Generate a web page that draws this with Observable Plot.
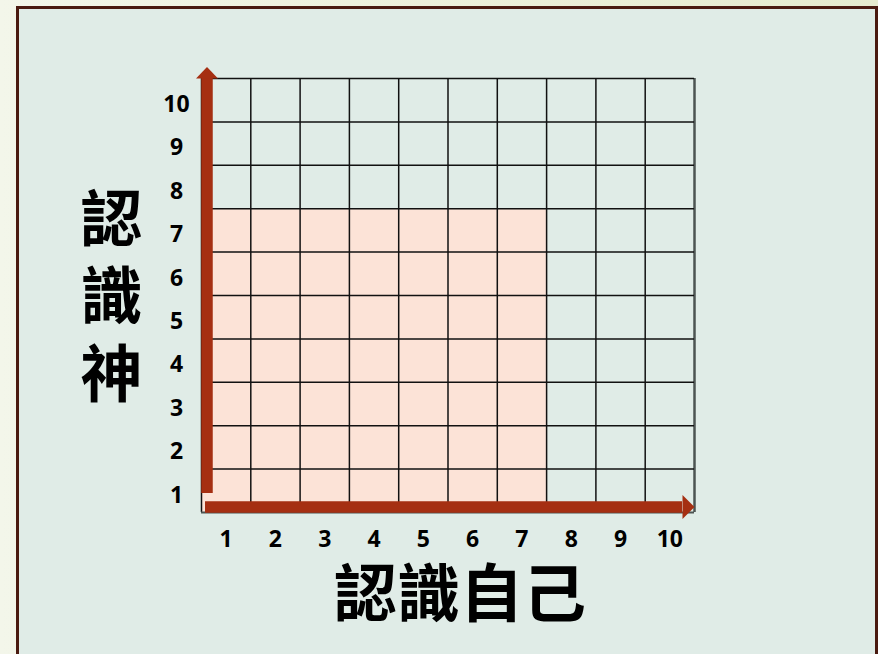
<!DOCTYPE html>
<html>
<head>
<meta charset="utf-8">
<script src="https://cdn.jsdelivr.net/npm/d3@7"></script>
<script src="https://cdn.jsdelivr.net/npm/@observablehq/plot@0.6"></script>
<style>
  html, body { margin: 0; padding: 0; }
  body {
    width: 878px; height: 654px; overflow: hidden; position: relative;
    background: linear-gradient(to right, #f3f6ea 0%, #eef1dd 40%, #e6ebcf 100%);
  }
  #panel {
    position: absolute; left: 16px; top: 6px; width: 862px; height: 700px;
    box-sizing: border-box; border: 3px solid #4a1a10; border-bottom: none;
    background: #e0ece7;
  }
  #chart { position: absolute; left: 0; top: 0; }
</style>
</head>
<body>
<div id="panel"></div>
<div id="chart"></div>
<script>
// ---- data ----
const xTicks = [1, 2, 3, 4, 5, 6, 7, 8, 9, 10];
const yTicks = [1, 2, 3, 4, 5, 6, 7, 8, 9, 10];
const xTitle = "認識自己";
const yTitle = "認識神";
const highlightX = 7;   // 認識自己 highlighted up to 7
const highlightY = 7;   // 認識神 highlighted up to 7

// ---- layout ----
const W = 878, H = 654;
const mL = 201, mR = 184, mT = 78, mB = 142;
const xDomain = [xTicks[0] - 0.5, xTicks[xTicks.length - 1] + 0.5];
const yDomain = [yTicks[0] - 0.5, yTicks[yTicks.length - 1] + 0.5];
const cellW = (W - mL - mR) / (xDomain[1] - xDomain[0]);
const cellH = (H - mT - mB) / (yDomain[1] - yDomain[0]);

const xEdges = [...xTicks.map(d => d - 0.5), xDomain[1]];
const yEdges = [...yTicks.map(d => d - 0.5), yDomain[1]];

const highlight = [{x1: xDomain[0], x2: highlightX + 0.5, y1: yDomain[0], y2: highlightY + 0.5}];

const arrowColor = "#a52f12";
const tickFont = "'Open Sans', 'DejaVu Sans', sans-serif";
const cjkFont = "'Noto Sans CJK TC', 'Noto Sans CJK SC', sans-serif";

const headUp = {
  draw(ctx, size) {
    ctx.moveTo(-11, 0); ctx.lineTo(0, -11.5); ctx.lineTo(11, 0); ctx.closePath();
  }
};
const headRight = {
  draw(ctx, size) {
    ctx.moveTo(-12, -12); ctx.lineTo(0, 0); ctx.lineTo(-12, 12); ctx.closePath();
  }
};

const chart = Plot.plot({
  width: W, height: H,
  marginLeft: mL, marginRight: mR, marginTop: mT, marginBottom: mB,
  style: {background: "transparent", overflow: "visible"},
  x: {domain: xDomain, axis: null},
  y: {domain: yDomain, axis: null},
  marks: [
    Plot.rect(highlight, {x1: "x1", x2: "x2", y1: "y1", y2: "y2", fill: "#fce3d7"}),
    // inner + left vertical grid lines
    Plot.ruleX(xEdges.slice(0, -1), {y1: yDomain[0], y2: yDomain[1], stroke: "#111", strokeWidth: 1.5}),
    // right edge
    Plot.ruleX(xEdges.slice(-1), {y1: yDomain[0], y2: yDomain[1], stroke: "#4c5452", strokeWidth: 2.5}),
    // horizontal grid lines
    Plot.ruleY(yEdges.slice(1), {x1: xDomain[0], x2: xDomain[1], stroke: "#111", strokeWidth: 1.5}),
    Plot.ruleY(yEdges.slice(0, 1), {x1: xDomain[0], x2: xDomain[1], stroke: "#4c5452", strokeWidth: 2}),
    // vertical arrow
    Plot.ruleX([xDomain[0]], {y1: yDomain[0] + 19 / cellH, y2: yDomain[1], dx: 5.5,
      stroke: arrowColor, strokeWidth: 11.5, strokeLinecap: "butt"}),
    Plot.dot([xDomain[0]], {x: d => d, y: yDomain[1], dx: 5.5, symbol: headUp, r: 12,
      fill: arrowColor, stroke: "none"}),
    // horizontal arrow
    Plot.ruleY([yDomain[0]], {x1: xDomain[0] + 4 / cellW, x2: xDomain[1] - 12 / cellW, dy: -5.5,
      stroke: arrowColor, strokeWidth: 11.5, strokeLinecap: "butt"}),
    Plot.dot([xDomain[1]], {x: d => d, y: yDomain[0], dy: -5.5, symbol: headRight, r: 12,
      fill: arrowColor, stroke: "none"}),
    // tick labels
    Plot.text(xTicks, {x: d => d, y: yDomain[0], dy: 27, text: d => String(d),
      fontSize: 23, fontWeight: 700, fontFamily: tickFont, fill: "#000", lineAnchor: "middle"}),
    Plot.text(yTicks, {x: xDomain[0], y: d => d, dx: -25, dy: 4.5, text: d => String(d),
      fontSize: 23, fontWeight: 700, fontFamily: tickFont, fill: "#000", textAnchor: "middle", lineAnchor: "middle"}),
    // axis titles
    Plot.text([yTitle.split("").join("\n")], {frameAnchor: "left", dx: -90, dy: -1, text: d => d,
      fontSize: 62, fontWeight: 700, fontFamily: cjkFont, fill: "#000", textAnchor: "middle",
      lineAnchor: "middle", lineHeight: 1.25}),
    Plot.text([xTitle], {frameAnchor: "bottom", dx: 12, dy: 83, text: d => d,
      fontSize: 63, fontWeight: 700, fontFamily: cjkFont, fill: "#000", textAnchor: "middle",
      lineAnchor: "middle"})
  ]
});
document.getElementById("chart").appendChild(chart);
</script>
</body>
</html>
